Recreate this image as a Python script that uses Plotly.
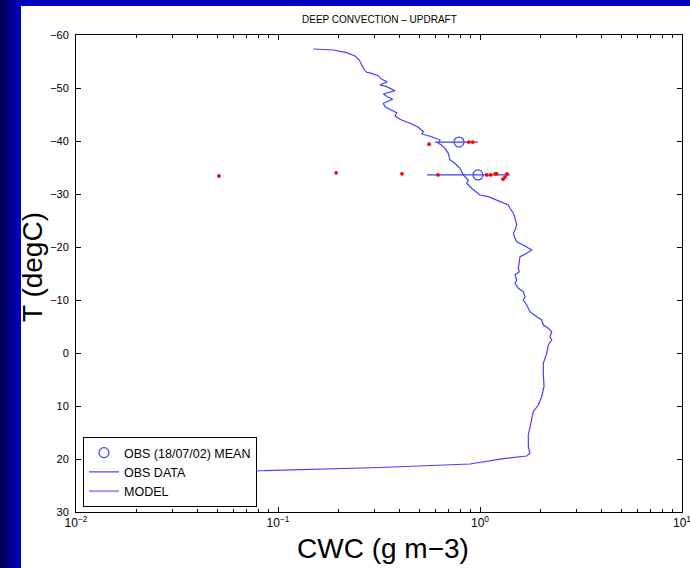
import plotly.graph_objects as go

# ---------------- data ----------------
obs_cwc = [0.1495, 0.1878, 0.2188, 0.2405, 0.2527, 0.2645, 0.2749, 0.2911, 0.3136, 0.3261,
           0.3476, 0.3199, 0.3452, 0.3795, 0.3321, 0.3476, 0.3697, 0.3321, 0.3386, 0.3655,
           0.3869, 0.3795, 0.4018, 0.4502, 0.4950, 0.5240, 0.5163, 0.5766, 0.6339, 0.6218,
           0.6459, 0.6706, 0.6965, 0.7101, 0.7517, 0.7962, 0.8268, 0.8751, 0.8594, 0.9096,
           1.000, 1.099, 1.210, 1.304, 1.381, 1.408, 1.462, 1.491, 1.520, 1.491,
           1.462, 1.491, 1.520, 1.638, 1.803, 1.703, 1.578, 1.565, 1.548, 1.565,
           1.491, 1.520, 1.491, 1.548, 1.638, 1.670, 1.638, 1.703, 1.768, 1.909,
           2.020, 2.058, 2.178, 2.265, 2.221, 2.265, 2.178, 2.139, 2.058, 2.058,
           2.074, 2.020, 1.944, 1.836, 1.803, 1.768, 1.735, 1.735, 1.768, 1.703,
           1.304, 0.892, 0.3199, 0.0852, 0.01173]
obs_temp = [-57.36, -57.17, -56.66, -56.04, -55.28, -53.72, -52.96, -52.77, -52.32, -51.64,
            -51.19, -50.57, -50.25, -49.49, -48.87, -48.36, -47.87, -47.11, -46.47, -45.85,
            -45.34, -44.72, -44.09, -43.34, -42.58, -41.75, -41.32, -40.81, -40.19, -39.57,
            -39.25, -38.62, -37.68, -36.42, -35.79, -34.85, -33.58, -32.64, -32.02, -31.08,
            -29.81, -29.49, -28.87, -28.25, -27.92, -27.30, -26.36, -25.42, -24.15, -23.21,
            -22.58, -21.64, -21.00, -20.38, -19.43, -18.81, -18.17, -17.23, -15.98, -15.34,
            -14.72, -13.77, -13.15, -12.21, -11.57, -10.62, -10.00, -9.06, -7.79, -6.85,
            -6.23, -5.28, -4.66, -4.02, -3.08, -2.45, -1.51, 0.06, 1.94, 3.83,
            6.36, 8.25, 9.81, 11.08, 12.64, 14.53, 15.47, 17.68, 18.92, 19.43,
            19.94, 20.94, 21.60, 22.21, 22.36]

mean_cwc = [0.787, 0.977]
mean_temp = [-39.8, -33.6]
mean_std = [0.19, 0.43]

sample_cwc = [0.56, 0.88, 0.92,
              0.051, 0.194, 0.411, 0.62, 1.08, 1.13, 1.19, 1.21, 1.30, 1.33, 1.36]
sample_temp = [-39.4, -39.8, -39.8,
               -33.4, -34.0, -33.8, -33.6, -33.6, -33.6, -33.8, -33.8, -32.8, -33.2, -33.8]

x_tickvals = [0.01, 0.1, 1, 10]
x_ticktext = ["10<sup>\u22122</sup>", "10<sup>\u22121</sup>", "10<sup>0</sup>", "10<sup>1</sup>"]
y_tickvals = [-60, -50, -40, -30, -20, -10, 0, 10, 20, 30]

title_text = "DEEP CONVECTION \u2013 UPDRAFT"
xlabel = "CWC (g m\u22123)"
ylabel = "T (degC)"

# ---------------- layout geometry ----------------
W, H = 690, 568
ML, MR, MT, MB = 76, 8, 35, 56
PW, PH = W - ML - MR, H - MT - MB

def px_x(p):
    return (p - ML) / PW

def px_y(p):
    return 1 - (p - MT) / PH

FONT = "Liberation Sans, Arial, Helvetica, sans-serif"
OBS_BLUE = "#4040ff"

# minor tick positions (2..9 in each decade)
minor_vals = [m * d for d in (0.01, 0.1, 1) for m in range(2, 10)]

fig = go.Figure()

fig.add_trace(go.Scatter(
    x=mean_cwc, y=mean_temp, mode="markers", name="OBS (18/07/02) MEAN",
    marker=dict(symbol="circle-open", size=10, color=OBS_BLUE, line=dict(width=1.2)),
    error_x=dict(type="data", array=mean_std, visible=True, color=OBS_BLUE,
                 thickness=1.2, width=0),
))
fig.add_trace(go.Scatter(
    x=obs_cwc, y=obs_temp, mode="lines", name="OBS DATA",
    line=dict(color=OBS_BLUE, width=1.2),
))
fig.add_trace(go.Scatter(
    x=[None], y=[None], mode="lines", name="MODEL",
    line=dict(color="#a0a0ff", width=2.2),
))
fig.add_trace(go.Scatter(
    x=sample_cwc, y=sample_temp, mode="markers", showlegend=False,
    marker=dict(symbol="circle", size=3.8, color="#ff0000"),
))

# slide-style blue frame: blue paper, white panel, darker gradient band on the left
shapes = [dict(type="rect", xref="paper", yref="paper",
               x0=px_x(20), x1=px_x(W + 30), y0=px_y(H + 30), y1=px_y(6),
               fillcolor="white", line=dict(width=0), layer="below")]
n = 10
for i in range(n):
    t = i / (n - 1)
    b = int(90 + t * (190 - 90))
    shapes.append(dict(type="rect", xref="paper", yref="paper",
                       x0=px_x(i * 2), x1=px_x(i * 2 + 3), y0=px_y(H + 5), y1=px_y(-5),
                       fillcolor=f"rgb(0,0,{b})", line=dict(width=0), layer="below"))

fig.update_layout(
    width=W, height=H,
    margin=dict(l=ML, r=MR, t=MT, b=MB, pad=0, autoexpand=False),
    paper_bgcolor="#0000c4", plot_bgcolor="white",
    font=dict(family=FONT, size=11, color="black"),
    shapes=shapes,
    showlegend=True,
    legend=dict(x=px_x(83), y=px_y(507), xanchor="left", yanchor="bottom",
                bgcolor="white", bordercolor="black", borderwidth=1,
                font=dict(size=12.5, family=FONT), tracegroupgap=0, itemwidth=30),
    annotations=[
        dict(text=title_text, xref="paper", yref="paper", x=0.5, y=px_y(19),
             xanchor="center", yanchor="middle", showarrow=False,
             font=dict(size=10, family=FONT)),
        dict(text=xlabel, xref="paper", yref="paper", x=px_x(383), y=px_y(548),
             xanchor="center", yanchor="middle", showarrow=False,
             font=dict(size=28, family=FONT)),
        dict(text=ylabel, xref="paper", yref="paper", x=px_x(32), y=px_y(267),
             xanchor="center", yanchor="middle", showarrow=False, textangle=-90,
             font=dict(size=28, family=FONT)),
    ],
)

fig.update_xaxes(
    type="log", range=[-2, 1], tickvals=x_tickvals, ticktext=x_ticktext,
    showgrid=False, zeroline=False, showline=True, linecolor="black", linewidth=1,
    mirror="ticks", ticks="inside", ticklen=5, tickcolor="black",
    minor=dict(ticks="inside", ticklen=3, tickcolor="black", showgrid=False,
               tickvals=minor_vals),
    tickfont=dict(size=12, family=FONT), ticklabeloverflow="allow", automargin=False,
)
fig.update_yaxes(
    range=[30, -60], tickvals=y_tickvals,
    showgrid=False, zeroline=False, showline=True, linecolor="black", linewidth=1,
    mirror="ticks", ticks="inside", ticklen=5, tickcolor="black",
    tickfont=dict(size=11, family=FONT), ticklabelstandoff=4, automargin=False,
)

fig.write_html("out.html")
